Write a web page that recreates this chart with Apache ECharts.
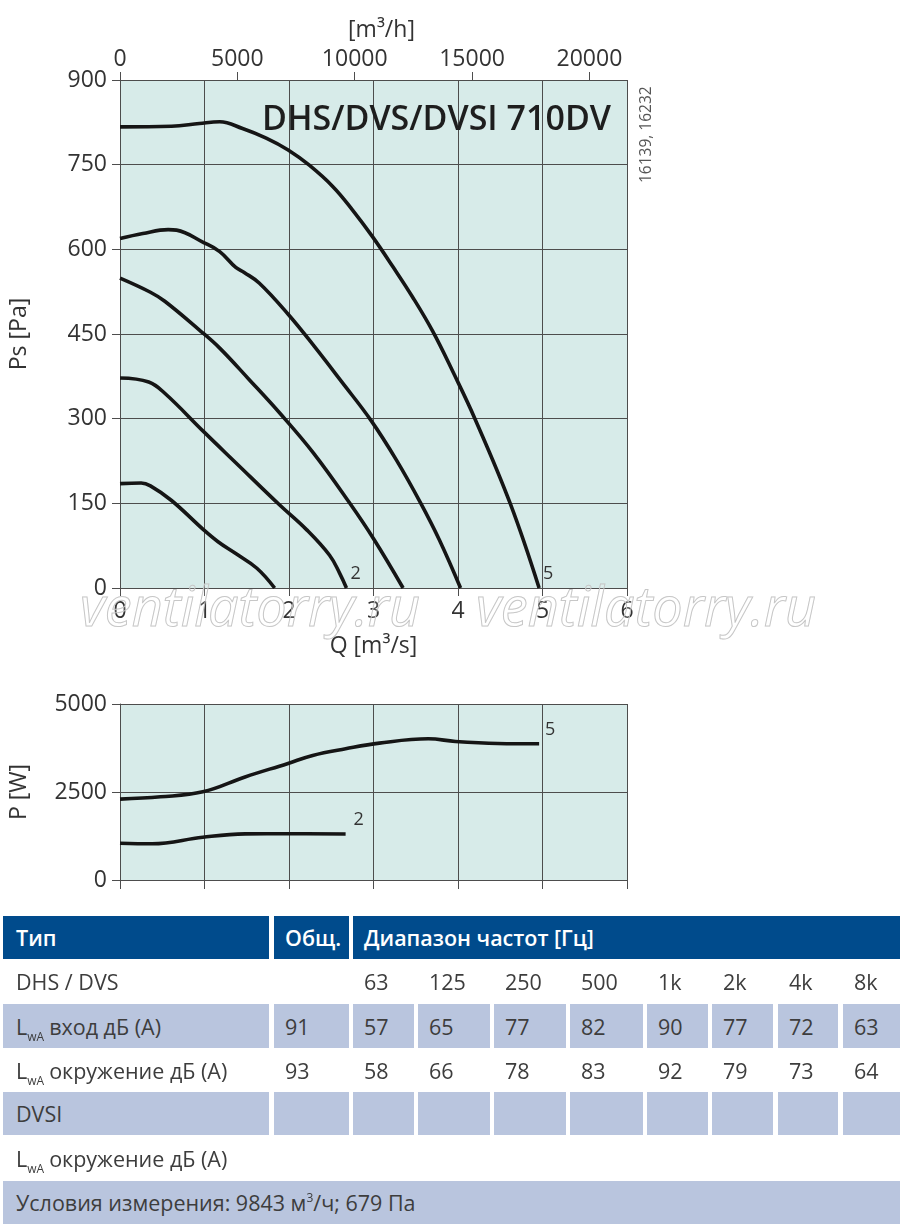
<!DOCTYPE html>
<html>
<head>
<meta charset="utf-8">
<script src="https://cdn.jsdelivr.net/npm/echarts@6/dist/echarts.min.js"></script>
<style>
  html, body { margin:0; padding:0; background:#fff; }
  #wrap { position:relative; width:900px; height:1224px; overflow:hidden; }
  #chart { position:absolute; left:0; top:0; width:900px; height:905px; }
  #table { position:absolute; left:0; top:0; width:900px; height:1224px; pointer-events:none; }
  .cell { position:absolute; box-sizing:border-box; padding-left:11px; font-family:"Open Sans", "Noto Sans", sans-serif; font-size:21.5px; color:#3d3d3d; display:flex; align-items:center; white-space:nowrap; }
  .hdr { background:#004b8c; color:#fff; font-weight:600; }
  .blue { background:#b9c5de; }
  .sb { font-size:12px; position:relative; top:6px; margin-right:5px; }
  .sp { font-size:12px; position:relative; top:-9px; }
</style>
</head>
<body>
<div id="wrap">
  <div id="chart"></div>
  <div id="table"></div>
</div>
<script>
// ---------- Data ----------
const qTicks = [0, 1, 2, 3, 4, 5, 6];
const psTicks = [0, 150, 300, 450, 600, 750, 900];
const flowTicksM3h = [0, 5000, 10000, 15000, 20000];
const powerTicks = [0, 2500, 5000];

// Ps [Pa] vs Q [m3/s] curves
const psCurve1 = [[0,185],[0.25,186],[0.36,181],[0.61,155],[0.99,103],[1.16,82],[1.37,61],[1.62,35],[1.83,0]];
const psCurve2 = [[0,372],[0.34,365],[0.53,345],[0.99,277],[1.37,222],[1.89,147],[2.21,103],[2.48,58],[2.6,26],[2.68,0]];
const psCurve3 = [[0,549],[0.36,524],[0.53,508],[0.94,457],[1.18,425],[1.53,369],[1.89,310],[2.29,239],[2.72,150],[3.01,85],[3.35,0]];
const psCurve4 = [[0,619],[0.27,628],[0.57,635],[0.67,634],[0.99,612],[1.18,596],[1.37,568],[1.47,559],[1.65,540],[1.99,485],[2.3,428],[2.62,366],[2.97,297],[3.27,227],[3.56,150],[3.78,85],[4.03,0]];
const psCurve5 = [[0,817],[0.61,818],[0.94,823],[1.18,826],[1.45,814],[1.73,797],[1.99,776],[2.24,749],[2.52,711],[2.75,670],[2.99,622],[3.23,569],[3.46,516],[3.70,455],[3.94,383],[4.2,300],[4.62,149],[4.96,0]];

// P [W] vs Q [m3/s]
const powerCurve5 = [[0,2297],[0.48,2363],[0.98,2505],[1.48,2928],[1.98,3305],[2.28,3540],[2.67,3729],[3.07,3889],[3.65,4011],[3.97,3936],[4.47,3879],[4.96,3870]];
const powerCurve2 = [[0,1045],[0.38,1030],[0.98,1215],[1.48,1309],[1.98,1315],[2.67,1305]];

// Table
const tableHeader = ["Тип", "Общ.", "Диапазон частот [Гц]"];
const freqBands = ["63", "125", "250", "500", "1k", "2k", "4k", "8k"];
const lwaInlet = ["91", "57", "65", "77", "82", "90", "77", "72", "63"];
const lwaSurround = ["93", "58", "66", "78", "83", "92", "79", "73", "64"];
const rowLabels = ["DHS / DVS", "вход дБ (A)", "окружение дБ (A)", "DVSI", "окружение дБ (A)"];
const measureNote = 'Условия измерения: 9843 м<span class="sp">3</span>/ч; 679 Па';

// ---------- Chart ----------
const FONT = '"Open Sans", "Noto Sans", sans-serif';
const TXT = '#333';
const GRID = '#4d4d4d';
const chart = echarts.init(document.getElementById('chart'), null, {renderer:'canvas'});

function lineSeries(data, xi, yi, label, off) {
  return {
    type:'line', xAxisIndex:xi, yAxisIndex:yi, data:data, smooth:0.4, symbol:'none',
    lineStyle:{color:'#151515', width:3.6}, silent:true,
    endLabel: label ? {show:true, formatter:label, fontFamily:FONT, fontSize:18, color:TXT, offset:off} : {show:false}
  };
}

const plain = v => String(v);
const axisLabelStyle = {fontFamily:FONT, fontSize:23, color:TXT, formatter:plain};

chart.setOption({
  animation:false,
  grid:[
    {left:120, top:80, width:507, height:508, show:true, backgroundColor:'#d7ebe9', borderWidth:0},
    {left:120, top:704, width:507, height:176, show:true, backgroundColor:'#d7ebe9', borderWidth:0}
  ],
  xAxis:[
    {type:'value', gridIndex:0, min:0, max:6, interval:1, position:'bottom',
     axisLine:{lineStyle:{color:GRID, width:1}}, axisTick:{show:true, length:8, lineStyle:{color:GRID}},
     splitLine:{show:true, lineStyle:{color:GRID, width:1}},
     axisLabel:Object.assign({margin:12}, axisLabelStyle),
     name:'Q [m³/s]', nameLocation:'middle', nameGap:47, nameTextStyle:{fontFamily:FONT, fontSize:23, color:TXT}},
    {type:'value', gridIndex:0, min:0, max:21600, interval:5000, position:'top',
     axisLine:{show:true, lineStyle:{color:GRID, width:1}}, axisTick:{show:true, length:8, lineStyle:{color:GRID}},
     splitLine:{show:false},
     axisLabel:Object.assign({margin:9, showMaxLabel:false}, axisLabelStyle),
     name:'[m³/h]', nameLocation:'middle', nameGap:38, nameTextStyle:{fontFamily:FONT, fontSize:23, color:TXT, padding:[0,0,0,16]}},
    {type:'value', gridIndex:1, min:0, max:6, interval:1, position:'bottom',
     axisLine:{lineStyle:{color:GRID, width:1}}, axisTick:{show:true, length:9, lineStyle:{color:GRID}},
     splitLine:{show:true, lineStyle:{color:GRID, width:1}},
     axisLabel:{show:false}}
  ],
  yAxis:[
    {type:'value', gridIndex:0, min:0, max:900, interval:150,
     axisLine:{show:true, lineStyle:{color:GRID, width:1}}, axisTick:{show:true, length:8, lineStyle:{color:GRID}},
     splitLine:{show:true, lineStyle:{color:GRID, width:1}},
     axisLabel:Object.assign({margin:13}, axisLabelStyle),
     name:'Ps [Pa]', nameLocation:'middle', nameGap:89, nameTextStyle:{fontFamily:FONT, fontSize:23, color:TXT}},
    {type:'value', gridIndex:1, min:0, max:5000, interval:2500,
     axisLine:{show:true, lineStyle:{color:GRID, width:1}}, axisTick:{show:true, length:8, lineStyle:{color:GRID}},
     splitLine:{show:true, lineStyle:{color:GRID, width:1}},
     axisLabel:Object.assign({margin:13}, axisLabelStyle),
     name:'P [W]', nameLocation:'middle', nameGap:89, nameTextStyle:{fontFamily:FONT, fontSize:23, color:TXT}}
  ],
  series:[
    lineSeries(psCurve1, 0, 0),
    lineSeries(psCurve2, 0, 0, '2', [-4, -14]),
    lineSeries(psCurve3, 0, 0),
    lineSeries(psCurve4, 0, 0),
    lineSeries(psCurve5, 0, 0, '5', [-4, -14]),
    lineSeries(powerCurve5, 2, 1, '5', [-2, -14]),
    lineSeries(powerCurve2, 2, 1, '2', [0, -14])
  ],
  graphic:[
    {type:'text', right:900-611, top:103, z:10, style:{text:'DHS/DVS/DVSI 710DV', fontFamily:FONT, fontSize:34, fontWeight:600, fill:'#1e1e1e'}},
    {type:'text', x:639, y:183, rotation:Math.PI/2, z:10, style:{text:'16139, 16232', fontFamily:FONT, fontSize:15.5, fill:'#555', textVerticalAlign:'top'}},
    {type:'text', x:80, y:584, z:20, style:{text:'ventilatorry.ru', fontFamily:FONT, fontStyle:'italic', fontSize:54, fill:'rgba(255,255,255,0.15)', stroke:'#c2c2c2', lineWidth:1}},
    {type:'text', x:476, y:584, z:20, style:{text:'ventilatorry.ru', fontFamily:FONT, fontStyle:'italic', fontSize:54, fill:'rgba(255,255,255,0.15)', stroke:'#c2c2c2', lineWidth:1}}
  ]
});

// ---------- Table ----------
const colX = [[3,269],[274,349],[353,414],[418,490],[494,566],[570,643],[647,708],[712,773],[778,838],[843,900]];
const rowY = [[916,959],[959,1004],[1004,1048],[1048,1092],[1092,1135],[1136,1180],[1181,1224]];
const tbl = document.getElementById('table');
function cell(c0, c1, r, html, cls) {
  const d = document.createElement('div');
  d.className = 'cell' + (cls ? ' ' + cls : '');
  d.style.left = colX[c0][0] + 'px';
  d.style.width = (colX[c1][1] - colX[c0][0]) + 'px';
  d.style.top = rowY[r][0] + 'px';
  d.style.height = (rowY[r][1] - rowY[r][0]) + 'px';
  if (c0 === 0) d.style.paddingLeft = '13px';
  d.innerHTML = '<span>' + html + '</span>';
  tbl.appendChild(d);
}
const LWA = 'L<span class="sb">wA</span>';
// header
cell(0,0,0,tableHeader[0],'hdr');
cell(1,1,0,tableHeader[1],'hdr');
cell(2,9,0,tableHeader[2],'hdr');
// DHS / DVS row
cell(0,0,1,rowLabels[0]);
freqBands.forEach((f,i)=>cell(i+2,i+2,1,f));
// LwA inlet
cell(0,0,2,LWA+rowLabels[1],'blue');
lwaInlet.forEach((v,i)=>cell(i+1,i+1,2,v,'blue'));
// LwA surround
cell(0,0,3,LWA+rowLabels[2]);
lwaSurround.forEach((v,i)=>cell(i+1,i+1,3,v));
// DVSI
cell(0,0,4,rowLabels[3],'blue');
for (let i=1;i<=9;i++) cell(i,i,4,'','blue');
// LwA surround DVSI
cell(0,0,5,LWA+rowLabels[4]);
// note
cell(0,9,6,measureNote,'blue');
</script>
</body>
</html>
